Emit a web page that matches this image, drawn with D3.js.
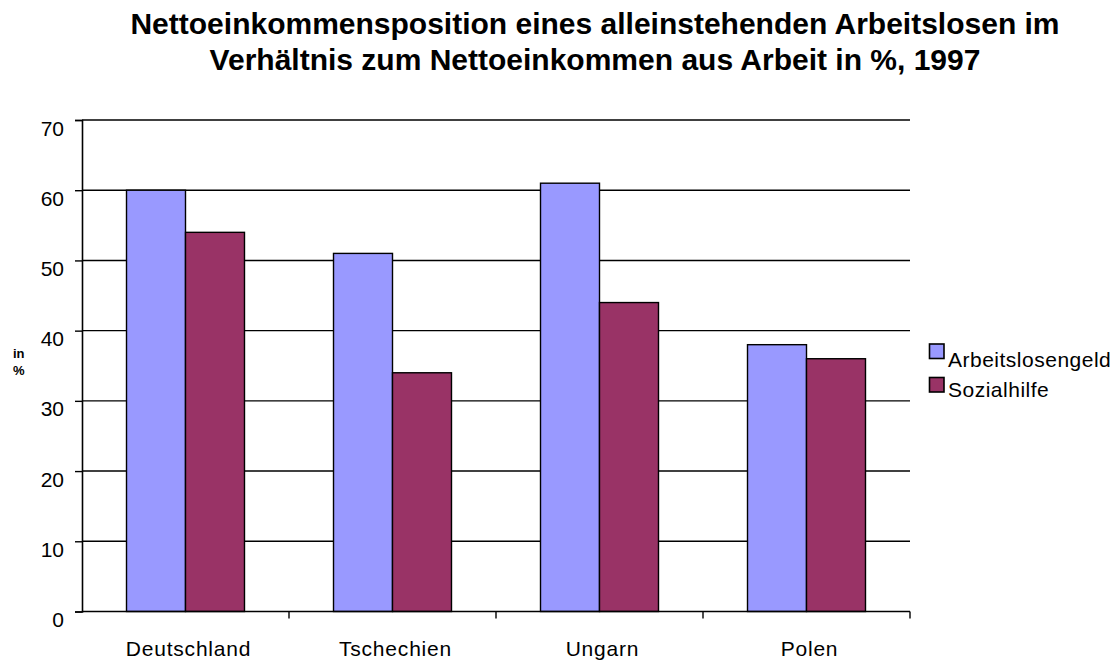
<!DOCTYPE html>
<html>
<head>
<meta charset="utf-8">
<script src="https://cdn.jsdelivr.net/npm/d3@7"></script>
<style>
  body { margin: 0; background: #fff; }
  text { font-family: "Liberation Sans", Arial, sans-serif; }
</style>
</head>
<body>
<div id="container"></div>
<script>
// Nettoeinkommensposition chart, grouped bars

const countries = ["Deutschland", "Tschechien", "Ungarn", "Polen"]
const seriesNames = ["Arbeitslosengeld", "Sozialhilfe"]
const arbeitslosengeld = [60, 51, 61, 38]
const sozialhilfe = [54, 34, 44, 36]
const yTicks = [0, 10, 20, 30, 40, 50, 60, 70]
const colors = ["#9999FF", "#993366"]

const width = 1119,
    height = 662
let plot = { left: 82, right: 910, top: 120, bottom: 611.5 }

const svg = d3.select("#container")
    .append("svg")
    .attr("width", width)
    .attr("height", height)

const title = svg.append("g")
    .attr("transform", `translate(595,0)`)
    .attr("text-anchor", "middle")
    .attr("font-weight", "bold")
    .attr("font-size", "30px")
title.append("text").attr("y", 34)
    .text("Nettoeinkommensposition eines alleinstehenden Arbeitslosen im")
title.append("text").attr("y", 70)
    .text("Verhältnis zum Nettoeinkommen aus Arbeit in %, 1997")

const yScale = d3.scaleLinear()
    .domain([0, 70])
    .range([plot.bottom, plot.top])

const xScale = d3.scaleBand()
    .domain(countries)
    .range([plot.left, plot.right])
    .paddingInner(0.43)
    .paddingOuter(0.215)

const xInner = d3.scaleBand()
    .domain(seriesNames)
    .range([0, xScale.bandwidth()])

// gridlines
svg.append("g").attr("class", "grid")
    .selectAll("line")
    .data(yTicks.filter(d => d > 0))
    .enter()
    .append("line")
    .attr("x1", plot.left)
    .attr("x2", plot.right)
    .attr("y1", d => yScale(d))
    .attr("y2", d => yScale(d))
    .attr("stroke", "#000")
    .attr("stroke-width", 1.4)

// y axis
const yAxis = d3.axisLeft(yScale)
    .tickValues(yTicks)
    .tickSize(7)
    .tickPadding(11)
svg.append("g").attr("id", "y-axis")
    .attr("transform", `translate(${plot.left},0)`)
    .call(yAxis)
    .call(g => g.select(".domain").attr("stroke-width", 1.6))
    .call(g => g.selectAll(".tick line").attr("stroke-width", 1.4))
    .call(g => g.selectAll(".tick text")
        .attr("dy", "0.72em")
        .attr("font-size", "21px")
        .attr("font-family", "Liberation Sans, Arial, sans-serif")
        .attr("fill", "#000"))

svg.append("g")
    .attr("font-size", "13px")
    .attr("font-weight", "bold")
    .selectAll("text")
    .data(["in", "%"])
    .enter()
    .append("text")
    .attr("x", 13)
    .attr("y", (d, i) => 358 + i * 17)
    .text(d => d)

// bars
const rows = countries.map((c, i) => ({ country: c, values: [arbeitslosengeld[i], sozialhilfe[i]] }))

const groups = svg.append("g").attr("class", "bars")
    .selectAll("g")
    .data(rows)
    .enter()
    .append("g")
    .attr("transform", d => `translate(${xScale(d.country)},0)`)

groups.selectAll("rect")
    .data(d => d.values.map((v, i) => ({ name: seriesNames[i], value: v, i })))
    .enter()
    .append("rect")
    .attr("x", d => xInner(d.name))
    .attr("y", d => yScale(d.value))
    .attr("width", xInner.bandwidth())
    .attr("height", d => yScale(0) - yScale(d.value))
    .attr("fill", d => colors[d.i])
    .attr("stroke", "#000")
    .attr("stroke-width", 1.4)

// x axis with ticks at category boundaries
const xAxisG = svg.append("g").attr("id", "x-axis")
xAxisG.append("line")
    .attr("x1", plot.left)
    .attr("x2", plot.right)
    .attr("y1", yScale(0))
    .attr("y2", yScale(0))
    .attr("stroke", "#000")
    .attr("stroke-width", 1.6)

const bounds = countries.map(c => xScale(c) - xScale.step() * xScale.paddingOuter())
bounds.push(plot.right)
xAxisG.selectAll(".xt")
    .data(bounds.slice(1))
    .enter()
    .append("line")
    .attr("class", "xt")
    .attr("x1", d => d)
    .attr("x2", d => d)
    .attr("y1", yScale(0))
    .attr("y2", yScale(0) + 7)
    .attr("stroke", "#000")
    .attr("stroke-width", 1.4)

xAxisG.selectAll("text")
    .data(countries)
    .enter()
    .append("text")
    .attr("x", d => xScale(d) + xScale.bandwidth() / 2 + 3)
    .attr("y", 656)
    .attr("text-anchor", "middle")
    .attr("font-size", "21px")
    .attr("letter-spacing", "0.8px")
    .text(d => d)

// legend
const legend = svg.append("g").attr("id", "legend")
const item = legend.selectAll("g")
    .data(seriesNames)
    .enter()
    .append("g")
item.append("rect")
    .attr("x", 929.5)
    .attr("y", (d, i) => 344 + i * 33.5)
    .attr("width", 14.5)
    .attr("height", 14.5)
    .attr("fill", (d, i) => colors[i])
    .attr("stroke", "#000")
    .attr("stroke-width", 1.6)
item.append("text")
    .attr("x", 948)
    .attr("y", (d, i) => 366.5 + i * 30)
    .attr("font-size", "21px")
    .attr("letter-spacing", "0.5px")
    .text(d => d)
</script>
</body>
</html>
